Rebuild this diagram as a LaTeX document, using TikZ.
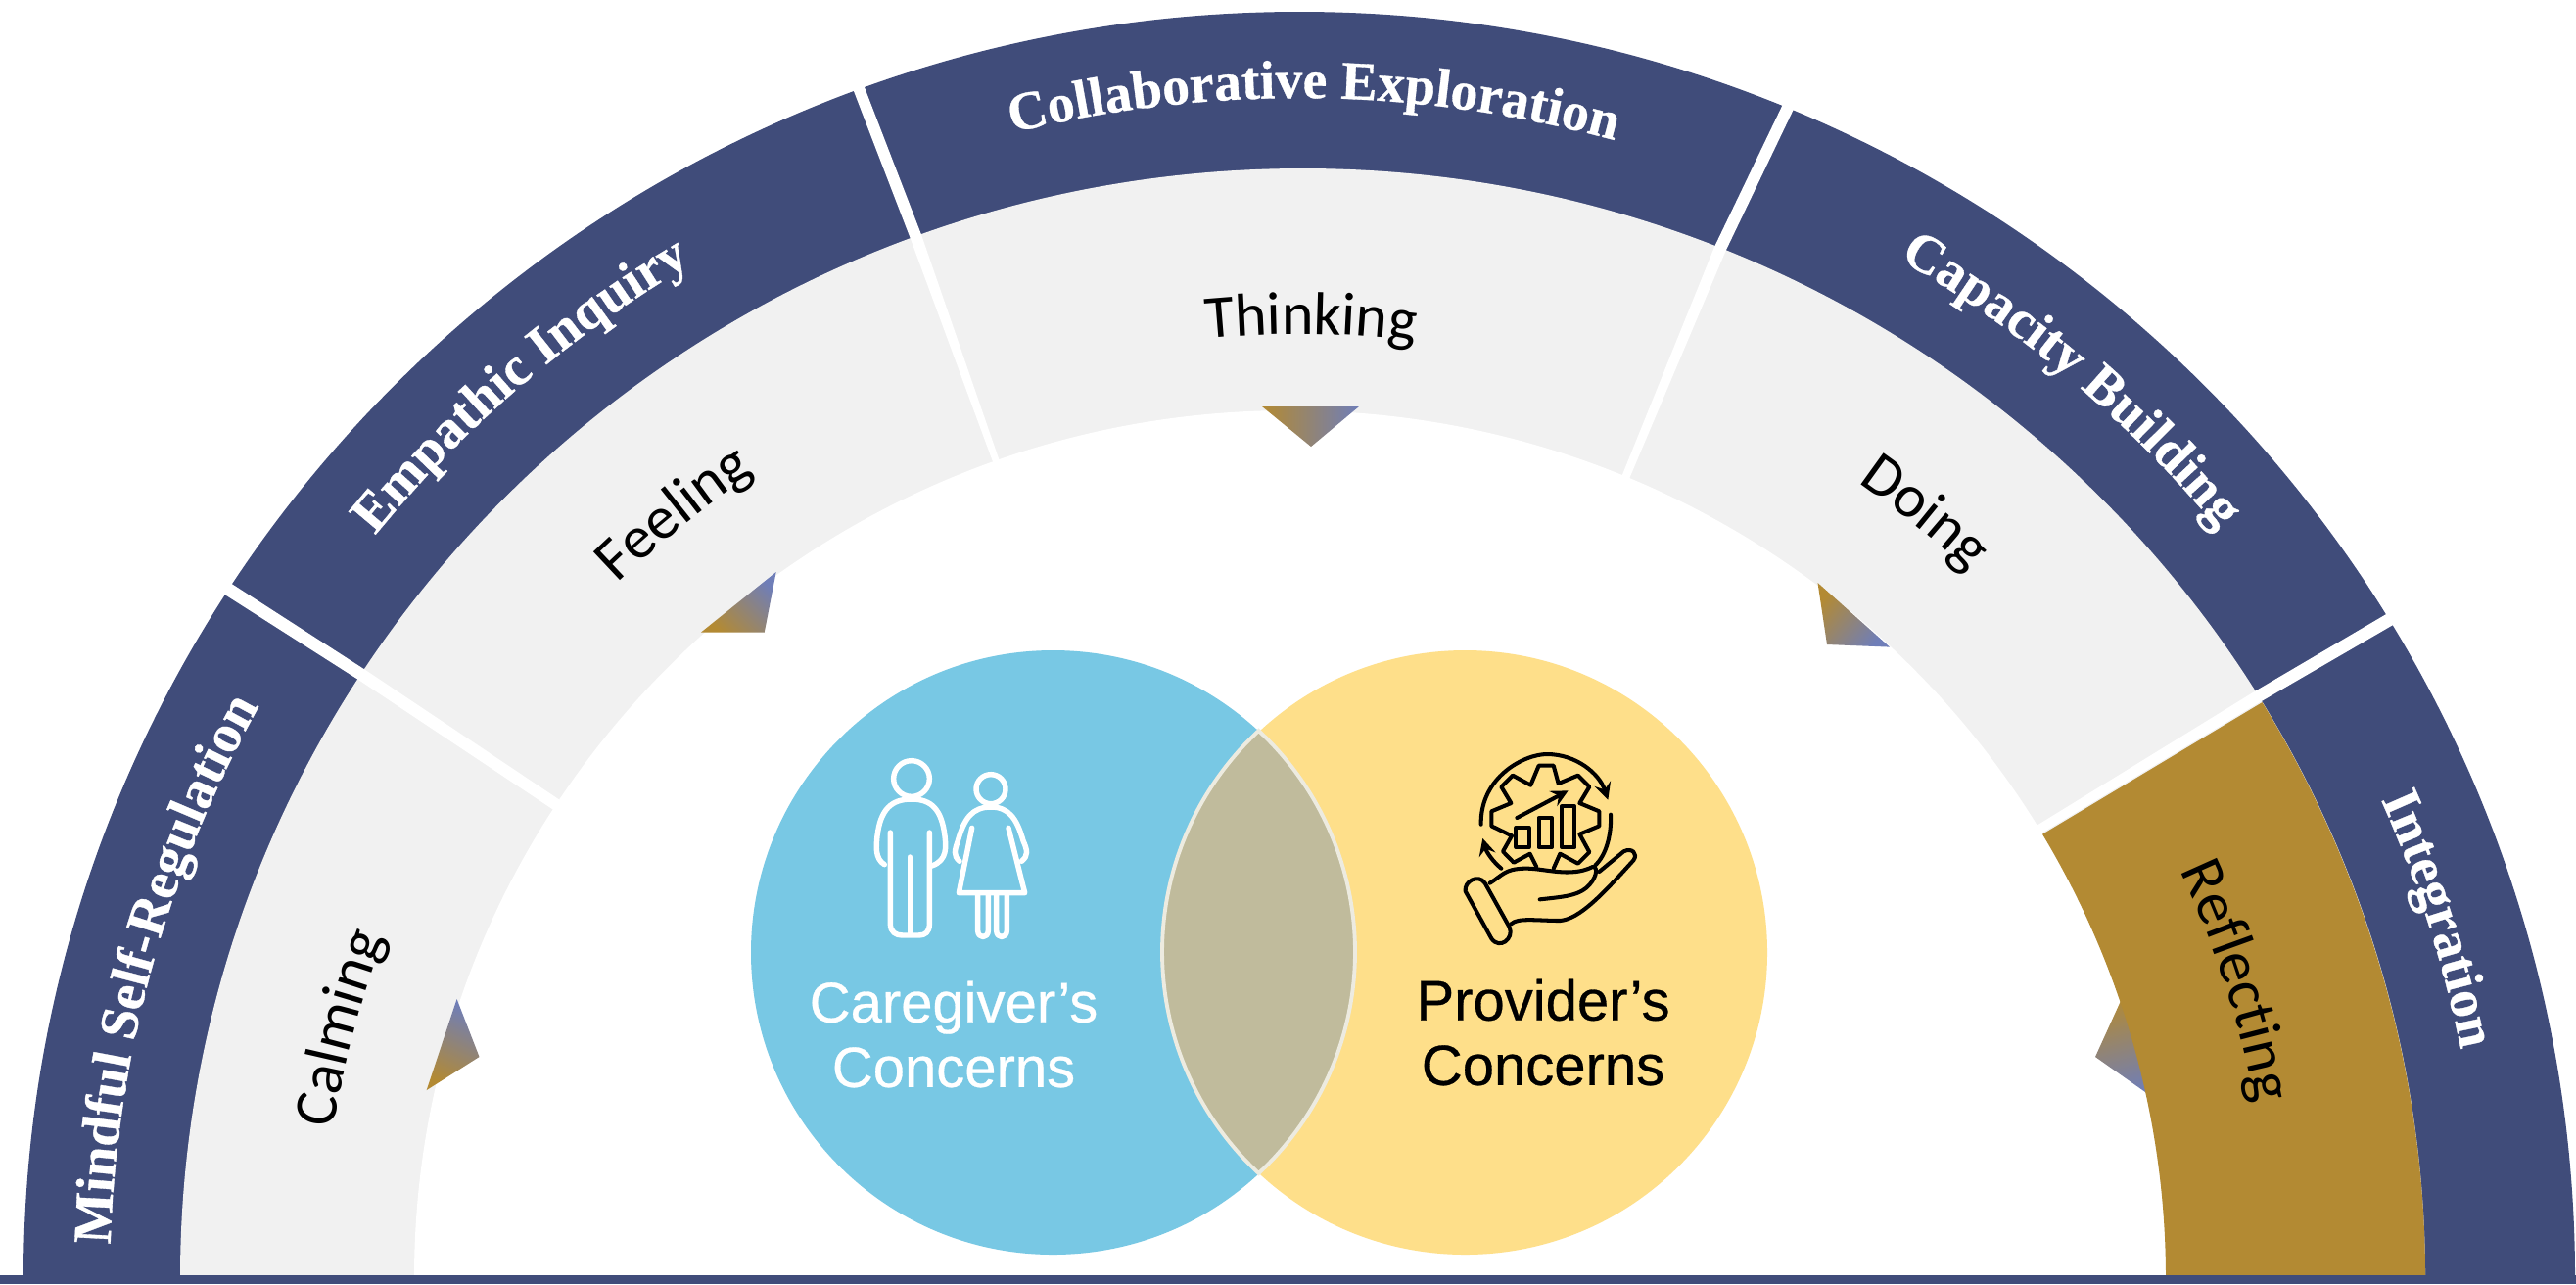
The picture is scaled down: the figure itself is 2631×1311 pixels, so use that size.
\documentclass[tikz,border=0pt]{standalone}
\usepackage{fontspec}
\usetikzlibrary{decorations.text}
\newfontfamily\bandfont[FakeBold=0.6]{Liberation Serif Bold}
\newfontfamily\ringfont{Carlito}
\newfontfamily\vennfont[FakeBold=0.5]{Liberation Sans}
\definecolor{navyband}{HTML}{404C7A}
\definecolor{greyring}{HTML}{F1F1F1}
\definecolor{goldring}{HTML}{B38A33}
\definecolor{tipblue}{HTML}{6F7EB8}
\definecolor{careblue}{HTML}{78C8E4}
\definecolor{provyellow}{HTML}{FEDF8A}
\definecolor{lensfill}{HTML}{C0BB9C}
\definecolor{lensline}{HTML}{EDEBE0}
\newcommand{\ringlabel}[4]{%
  \path[decorate,decoration={text along path,text align=center,text={|#3|#4}}]
    (1327,1305) ++(-#1-22:#2*1.008 and #2)
    arc[start angle=-#1-22,end angle=-#1+22,x radius=#2*1.008,y radius=#2];}
\newcommand{\bandstyle}{\bandfont\fontsize{15.8}{18}\selectfont\color{white}}
\newcommand{\ringstyle}{\ringfont\fontsize{17.6}{20}\selectfont}
\tikzset{
  gap/.style={fill=white},
  tipshade/.style={top color=tipblue,bottom color=goldring},
  iconline/.style={line cap=round,line join=round},
  venntext/.style={font=\vennfont\fontsize{16.5}{18.8}\selectfont,align=center}
}
\begin{document}
\begin{tikzpicture}[x=0.01cm,y=-0.01cm]
  \useasboundingbox (0,0) rectangle (2631,1311);
  % Ring
  \begin{scope}
    \clip (0,0) rectangle (2631,1302);
    \fill[navyband] (1327,1305) ellipse [x radius=1303,y radius=1293];
    \fill[greyring] (1330.5,1305) ellipse [x radius=1146.5,y radius=1133];
    \fill[white] (1317.5,1305) ellipse [x radius=894.5,y radius=886];
    % Spalten
    \fill[gap] (235,595) -- (228,606) -- (368.5,695.6) -- (570,830) -- (575,819) -- (374,684.5) -- cycle;
    \fill[gap] (870,88) -- (881,84) -- (941,239.5) -- (1022,474) -- (1016,477) -- (930,244) -- cycle;
    \fill[gap] (1824,100) -- (1835,105) -- (1762.6,256) -- (1661,496) -- (1654,492) -- (1751,252) -- cycle;
    \fill[gap] (2444,623) -- (2451,634) -- (2308,717) -- (2078,855) -- (2075,846) -- (2301,707) -- cycle;
    % Spitzen
    \shade[tipshade,shading angle=-25] (466.6,1020) -- (489.5,1079) -- (435.7,1113) -- cycle;
    \shade[tipshade,shading angle=-45] (792.7,584) -- (780.7,645.7) -- (715.8,645.7) -- cycle;
    \shade[tipshade,shading angle=-90] (1289,415) -- (1388,415) -- (1339,456) -- cycle;
    \shade[tipshade,shading angle=-130] (1856.5,595) -- (1866,658) -- (1930,660.6) -- cycle;
    \shade[top color=goldring,bottom color=tipblue,shading angle=15] (2170,1013) -- (2140,1079) -- (2201,1122) -- cycle;
    % Reflecting
    \fill[goldring] (1330.5,1305) ++(-31.26:1146.5 and 1133)
      arc[start angle=-31.26,end angle=0,x radius=1146.5,y radius=1133]
      -- (2212,1305)
      arc[start angle=0,end angle=-30.77,x radius=894.5,y radius=886] -- cycle;
  \end{scope}
  \fill[navyband] (0,1302) rectangle (2631,1311);
  % Beschriftung Band
  \ringlabel{164.7}{1205}{\bandstyle}{Mindful Self-Regulation}
  \ringlabel{130.9}{1205}{\bandstyle}{Empathic Inquiry}
  \ringlabel{89.3}{1205}{\bandstyle}{Collaborative Exploration}
  \ringlabel{49.5}{1205}{\bandstyle}{Capacity Building}
  \ringlabel{17.6}{1200}{\bandstyle}{Integration}
  % Beschriftung Ring
  \ringlabel{165.3}{990}{\ringstyle}{Calming}
  \ringlabel{129.1}{990}{\ringstyle}{Feeling}
  \ringlabel{89.3}{964}{\ringstyle}{Thinking}
  \ringlabel{50.9}{990}{\ringstyle}{Doing}
  \ringlabel{17.7}{985}{\ringstyle}{Reflecting}
  % Kreise
  \fill[careblue] (1075.5,972.5) circle [radius=308.5];
  \fill[provyellow] (1496.5,972.5) circle [radius=308.5];
  \draw[fill=lensfill,draw=lensline,line width=1.1pt] (1285.5,746)
    arc[start angle=-47.1,end angle=47.1,radius=308.5]
    arc[start angle=-227.1,end angle=-132.9,radius=308.5] -- cycle;
  \node[venntext,text=white] (caregiver) at (974,1056) {Caregiver’s\\Concerns};
  \node[venntext,text=black] (provider) at (1576,1054) {Provider’s\\Concerns};
  % Paar
  \begin{scope}[shift={(860,740)},scale=1/3,draw=white,iconline,line width=1.55pt]
    \draw (213,165) circle [radius=55];
    \draw (130,428) .. controls (100,410) and (105,370) .. (108,340)
      .. controls (118,260) and (150,228) .. (213,228)
      .. controls (275,228) and (305,260) .. (315,340)
      .. controls (318,370) and (325,415) .. (275,432);
    \draw (148,330) -- (148,610) .. controls (148,635) and (165,645) .. (185,645)
      -- (235,645) .. controls (255,645) and (268,635) .. (268,610) -- (268,330);
    \draw (208,405) -- (208,640);
    \draw (456,197) circle [radius=45];
    \draw (360,418) .. controls (340,400) and (345,385) .. (355,355)
      .. controls (375,285) and (400,252) .. (456,252)
      .. controls (510,252) and (535,285) .. (555,355)
      .. controls (568,385) and (572,400) .. (550,418);
    \draw (398,316) -- (358,515) -- (560,515) -- (510,316);
    \draw (416,520) -- (416,630) .. controls (416,656) and (448,656) .. (448,630) -- (448,520);
    \draw (473,520) -- (473,630) .. controls (473,656) and (505,656) .. (505,630) -- (505,520);
  \end{scope}
  % Hand mit Zahnrad
  \begin{scope}[shift={(1470,750)},scale=1/3,draw=black,iconline,line width=1.15pt]
    \draw (298,405) -- (278,365) -- (228,392) -- (195,358) -- (222,310) -- (160,280) -- (160,235)
      -- (220,210) -- (190,160) -- (225,125) -- (280,155) -- (305,95) -- (350,95) -- (365,150)
      -- (425,125) -- (460,160) -- (430,210) -- (490,235) -- (490,280) -- (430,305) -- (460,360)
      -- (425,395) -- (370,365) -- (350,410);
    \draw (235,285) rectangle (275,345);
    \draw (305,255) rectangle (345,345);
    \draw (375,220) rectangle (415,345);
    \draw[-stealth] (238,255) -- (395,172);
    \draw[-stealth] (128,275) .. controls (125,130) and (260,60) .. (330,60)
      .. controls (420,60) and (490,120) .. (517,200);
    \draw (525,245) .. controls (528,310) and (510,370) .. (478,400);
    \draw[-stealth] (190,410) .. controls (165,390) and (145,360) .. (133,318);
    \draw (80,480) .. controls (75,450) and (120,425) .. (140,455) -- (215,590)
      .. controls (230,625) and (185,660) .. (160,625) -- cycle;
    \draw (155,455) .. controls (195,430) and (200,412) .. (260,410)
      .. controls (320,408) and (400,440) .. (470,405)
      .. controls (490,405) and (480,445) .. (450,470)
      .. controls (420,495) and (370,498) .. (308,505);
    \draw (220,580) .. controls (240,560) and (300,570) .. (370,570)
      .. controls (430,565) and (500,490) .. (595,385)
      .. controls (610,365) and (590,345) .. (565,358) -- (490,420);
  \end{scope}
\end{tikzpicture}
\end{document}
